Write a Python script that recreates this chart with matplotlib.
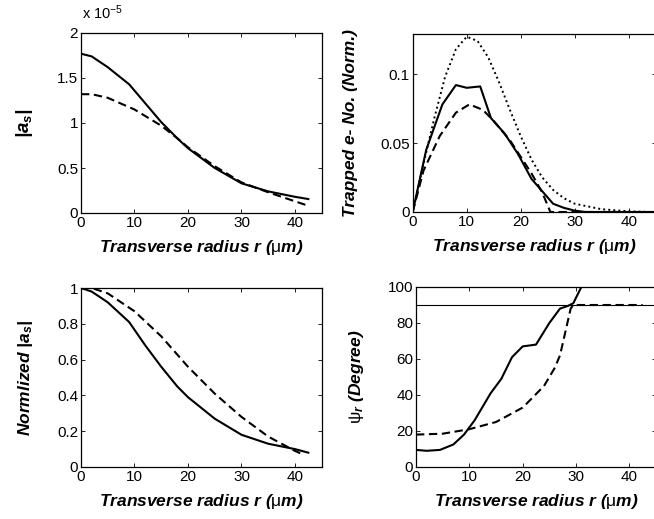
import matplotlib
matplotlib.use("Agg")
import matplotlib.pyplot as plt
from matplotlib.ticker import FormatStrFormatter
import numpy as np

plt.rcParams['font.family'] = ['Liberation Sans', 'DejaVu Sans']
plt.rcParams['mathtext.fontset'] = 'custom'
plt.rcParams['mathtext.rm'] = 'Liberation Sans:style=italic:weight=bold'
plt.rcParams['mathtext.it'] = 'Liberation Sans:style=italic:weight=bold'
plt.rcParams['mathtext.bf'] = 'Liberation Sans:weight=bold'
plt.rcParams['mathtext.sf'] = 'Liberation Sans'

# top-left: |a_s| (x 1e-5)
r_as_solid = [0, 2, 5, 9, 12, 15, 18, 20, 25, 30, 35, 40, 42.5]
as_solid = [1.77, 1.74, 1.62, 1.43, 1.22, 1.01, 0.83, 0.72, 0.50, 0.33, 0.24, 0.18, 0.155]
r_as_dash = [0, 2, 5, 10, 15, 18, 20, 25, 30, 35, 40, 42]
as_dash = [1.32, 1.32, 1.28, 1.15, 0.97, 0.83, 0.73, 0.52, 0.34, 0.23, 0.13, 0.09]

# top-right: trapped electron number (normalized)
r_tr_solid = [0, 2.5, 5.5, 8, 10, 12.5, 14.5, 17, 19.5, 22, 24, 26, 28, 30, 32, 45]
tr_solid = [0, 0.045, 0.078, 0.092, 0.090, 0.091, 0.068, 0.057, 0.042, 0.024, 0.015, 0.006, 0.003, 0.001, 0, 0]
r_tr_dash = [0, 2, 5, 8, 10.5, 13, 15, 18, 20, 22, 24, 25.5, 45]
tr_dash = [0, 0.030, 0.055, 0.072, 0.078, 0.074, 0.066, 0.052, 0.040, 0.028, 0.014, 0, 0]
r_tr_dot = [0, 2, 4, 6, 8, 10, 12, 14, 16, 18, 20, 22, 24, 26, 28, 30, 35, 40, 44]
tr_dot = [0, 0.035, 0.068, 0.098, 0.118, 0.127, 0.124, 0.112, 0.094, 0.074, 0.055,
          0.038, 0.025, 0.016, 0.010, 0.006, 0.002, 0.0005, 0]

# bottom-left: normalized |a_s|
r_n_solid = [0, 2, 5, 9, 12, 15, 18, 20, 25, 30, 35, 40, 42.5]
n_solid = [1.0, 0.98, 0.92, 0.81, 0.68, 0.56, 0.45, 0.39, 0.27, 0.18, 0.13, 0.10, 0.08]
r_n_dash = [0, 2, 5, 10, 15, 20, 25, 30, 35, 40, 41.5]
n_dash = [1.0, 1.0, 0.97, 0.87, 0.73, 0.56, 0.41, 0.28, 0.17, 0.09, 0.07]

# bottom-right: psi_r (degree)
r_psi_solid = [0, 2, 4.5, 7, 9, 11, 13, 14, 16, 18, 20, 22.5, 25, 27, 28.5, 29.5, 31]
psi_solid = [9.5, 9, 9.5, 12.5, 18, 26, 36, 41, 49, 61, 67, 68, 80, 88, 89.5, 91, 100]
r_psi_dash = [0, 5, 10, 15, 20, 24, 26, 27, 28, 29, 29.5, 42.5]
psi_dash = [18, 18.5, 21, 25, 33, 45, 55, 62, 75, 88, 90, 90]
psi_ref = 90

W, H = 654, 519
fig = plt.figure(figsize=(W / 100, H / 100), dpi=100)


def box(l, t, r, b):
    return [l / W, 1 - b / H, (r - l) / W, (b - t) / H]


ax1 = fig.add_axes(box(81, 33, 321.7, 213))
ax2 = fig.add_axes(box(412.7, 34, 655.7, 212))
ax3 = fig.add_axes(box(81, 288, 321.7, 467))
ax4 = fig.add_axes(box(416, 287, 656, 467))

dash = (0, (4, 2.2))
lw = 1.5
lab = dict(fontsize=12.5, fontweight='bold', style='italic')

ax1.plot(r_as_solid, as_solid, 'k-', lw=lw)
ax1.plot(r_as_dash, as_dash, 'k', ls=dash, lw=lw)
ax1.set_ylim(0, 2)
ax1.set_yticks([0, 0.5, 1, 1.5, 2])
ax1.set_ylabel('$|a_s|$', fontsize=13.5, fontweight='bold', style='italic')
fig.text(82 / W, 1 - 22 / H, 'x 10$^{\\mathsf{-5}}$', fontsize=10.5, ha='left', va='bottom')

ax2.plot(r_tr_dot, tr_dot, 'k', ls=(0, (1, 1.6)), lw=1.4)
ax2.plot(r_tr_solid, tr_solid, 'k-', lw=lw)
ax2.plot(r_tr_dash, tr_dash, 'k', ls=dash, lw=lw)
ax2.set_ylim(0, 0.129)
ax2.set_yticks([0, 0.05, 0.1])
ax2.set_ylabel('Trapped e- No. (Norm.)', **lab)

ax3.plot(r_n_solid, n_solid, 'k-', lw=lw)
ax3.plot(r_n_dash, n_dash, 'k', ls=dash, lw=lw)
ax3.set_ylim(0, 1)
ax3.set_yticks([0, 0.2, 0.4, 0.6, 0.8, 1])
ax3.set_ylabel('Normlized $|a_s|$', **lab)

ax4.axhline(psi_ref, color='k', lw=0.8)
ax4.plot(r_psi_solid, psi_solid, 'k-', lw=lw)
ax4.plot(r_psi_dash, psi_dash, 'k', ls=dash, lw=lw)
ax4.set_ylim(0, 100)
ax4.set_yticks([0, 20, 40, 60, 80, 100])
ax4.set_ylabel('$\\mathsf{\\psi}_r$ (Degree)', **lab)

for ax in (ax1, ax2, ax3, ax4):
    ax.set_xlim(0, 45)
    ax.set_xticks([0, 10, 20, 30, 40])
    ax.set_xlabel('Transverse radius r ($\\mathsf{\\mu}$m)', **lab)
    ax.xaxis.set_label_coords(0.5, -0.14)
    ax.yaxis.set_major_formatter(FormatStrFormatter('%g'))
    ax.tick_params(direction='in', top=True, right=True, length=3, width=0.6,
                   labelsize=11, pad=2)
    for s in ax.spines.values():
        s.set_linewidth(0.9)

ax1.yaxis.set_label_coords(-0.19, 0.5)
ax3.yaxis.set_label_coords(-0.19, 0.5)
ax2.yaxis.set_label_coords(-0.225, 0.5)
ax4.yaxis.set_label_coords(-0.21, 0.5)

fig.savefig('out.png', dpi=100)
